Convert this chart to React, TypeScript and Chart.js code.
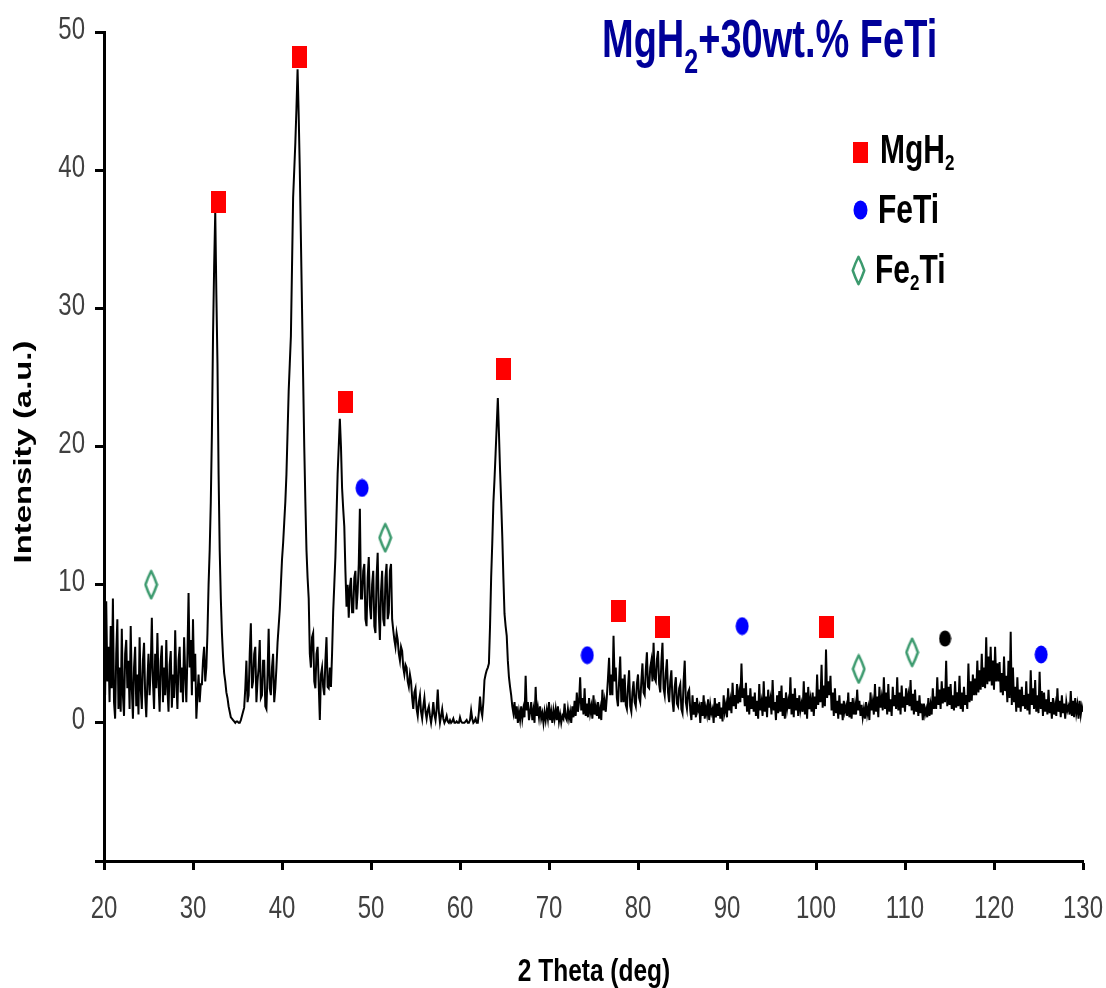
import React, { useEffect, useRef } from "react";
import { Chart, registerables } from "chart.js";

Chart.register(...registerables);

// ---------- DATA ----------
const THETA_START = 20;
const THETA_STEP = 0.125;

const intensity: number[] = [
  6.5, 2.0, 8.8, 3.0, 5.5, 1.5, 7.0, 2.5, // 20
  9.0, 1.5, 0.3, 5.0, 7.5, 1.0, 4.0, 0.8, // 21
  6.8, 2.0, 0.5, 5.0, 6.0, 2.5, 4.5, 1.0, // 22
  7.0, 2.5, 0.3, 4.0, 5.5, 1.2, 3.5, 0.6, // 23
  6.2, 2.5, 1.0, 4.5, 5.8, 2.0, 0.4, 3.0, // 24
  5.0, 2.0, 4.0, 7.6, 3.0, 1.0, 5.0, 2.5, // 25
  6.5, 3.0, 0.8, 4.5, 5.6, 1.5, 4.0, 2.0, // 26
  6.0, 2.5, 0.8, 4.2, 5.2, 1.1, 3.5, 1.8, // 27
  6.7, 3.0, 1.0, 4.5, 5.5, 2.2, 4.0, 1.5, // 28
  6.2, 3.5, 1.5, 5.0, 9.4, 4.0, 6.0, 2.0, // 29
  7.5, 3.0, 5.0, 0.3, 2.0, 3.5, 1.5, 2.8, // 30
  2.8, 4.5, 5.5, 3.0, 4.0, 6.5, 10.0, 12.5, // 31
  16.0, 21.0, 28.0, 33.0, 37.0, 31.0, 26.0, 18.0, // 32
  12.5, 9.0, 6.5, 4.8, 3.6, 3.0, 2.2, 1.8, // 33
  1.2, 0.8, 0.4, 0.3, 0.2, 0.1, 0.0, 0.1, // 34
  0.1, 0.0, 0.0, 0.2, 0.5, 0.8, 1.1, 2.5, // 35
  4.5, 1.5, 2.0, 5.0, 7.2, 2.5, 3.0, 5.0, // 36
  5.5, 1.5, 3.0, 4.0, 6.0, 1.8, 2.0, 4.5, // 37
  4.5, 1.2, 1.0, 3.5, 6.8, 2.5, 2.0, 4.0, // 38
  5.0, 1.5, 2.5, 4.0, 5.8, 7.0, 8.2, 10.0, // 39
  11.8, 13.0, 14.5, 16.0, 18.0, 21.0, 24.0, 26.0, // 40
  28.0, 33.0, 38.0, 40.0, 42.0, 44.5, 47.3, 44.0, // 41
  40.0, 35.0, 30.0, 25.0, 20.0, 16.0, 12.5, 10.5, // 42
  9.0, 5.0, 4.0, 6.2, 6.5, 3.0, 2.5, 5.0, // 43
  5.5, 2.8, 0.2, 3.5, 4.0, 2.6, 2.0, 4.5, // 44
  6.2, 2.6, 2.5, 4.0, 2.6, 5.0, 8.0, 10.0, // 45
  12.0, 15.0, 18.0, 20.0, 22.0, 20.0, 17.0, 15.5, // 46
  14.2, 11.0, 8.4, 10.0, 7.6, 9.8, 10.5, 8.0, // 47
  8.0, 10.5, 11.0, 8.2, 9.5, 11.5, 15.5, 9.0, // 48
  9.0, 11.0, 11.5, 7.5, 7.0, 10.5, 12.0, 8.5, // 49
  7.5, 10.0, 11.0, 7.0, 6.5, 10.5, 12.3, 8.0, // 50
  6.0, 9.5, 11.0, 7.5, 7.0, 10.5, 11.5, 7.5, // 51
  8.0, 11.0, 11.5, 7.5, 6.7, 6.0, 5.5, 6.5, // 52
  6.0, 5.0, 4.5, 5.5, 5.2, 4.0, 3.5, 4.2, // 53
  4.0, 3.0, 2.6, 3.5, 3.0, 1.8, 1.0, 2.2, // 54
  2.5, 1.0, 0.5, 1.5, 2.0, 0.8, 0.3, 1.2, // 55
  1.8, 0.8, 0.3, 0.9, 1.2, 0.5, 0.0, 0.6, // 56
  1.5, 0.6, 0.2, 1.0, 2.4, 0.8, 0.0, 0.5, // 57
  1.0, 0.3, 0.0, 0.2, 0.5, 0.1, 0.0, 0.2, // 58
  0.0, 0.1, 0.3, 0.0, 0.0, 0.1, 0.0, 0.0, // 59
  0.4, 0.1, 0.0, 0.0, 0.0, 0.1, 0.2, 0.0, // 60
  0.0, 0.2, 0.9, 0.3, 0.0, 0.1, 0.3, 0.0, // 61
  0.0, 0.8, 1.9, 0.9, 0.5, 1.5, 3.1, 3.5, // 62
  3.8, 4.0, 4.3, 7.0, 10.5, 13.0, 15.9, 17.6, // 63
  19.5, 21.5, 23.5, 21.0, 18.3, 16.0, 13.5, 10.5, // 64
  7.9, 7.0, 6.3, 4.5, 3.3, 2.6, 2.0, 1.2, // 65
  0.7, 1.5, 0.3, 1.2, 0.0, 0.8, 0.2, 1.2, // 66
  0.3, 1.0, 0.4, 3.4, 0.9, 1.5, 0.2, 0.8, // 67
  1.5, 0.2, 0.9, 0.0, 2.6, 0.5, 1.1, 0.4, // 68
  1.2, 0.3, 0.7, 0.0, 0.8, 0.2, 0.9, 0.3, // 69
  1.5, 0.2, 0.8, 0.0, 0.9, 0.3, 1.0, 0.2, // 70
  1.2, 0.1, 0.6, 0.0, 0.5, 0.3, 1.4, 0.4, // 71
  0.2, 1.0, 0.3, 0.8, 0.0, 1.2, 0.4, 1.6, // 72
  0.5, 2.2, 0.8, 1.5, 3.3, 0.9, 1.8, 0.6, // 73
  2.5, 0.5, 1.4, 0.4, 1.8, 0.7, 1.2, 0.3, // 74
  2.0, 0.6, 1.2, 0.5, 1.5, 0.3, 1.0, 0.2, // 75
  2.4, 0.9, 1.6, 0.8, 1.9, 3.2, 4.7, 2.0, // 76
  3.5, 2.0, 6.3, 3.0, 4.0, 1.8, 1.2, 3.0, // 77
  4.8, 1.5, 3.2, 1.5, 3.5, 1.3, 1.0, 2.6, // 78
  3.8, 1.2, 0.8, 2.2, 3.0, 1.5, 1.2, 2.8, // 79
  3.5, 1.8, 1.5, 3.0, 4.3, 2.2, 2.0, 3.8, // 80
  5.1, 2.6, 2.5, 4.0, 4.5, 3.0, 5.8, 3.2, // 81
  3.0, 4.6, 5.2, 2.8, 2.2, 4.4, 5.8, 2.5, // 82
  2.0, 3.6, 4.6, 2.2, 1.5, 3.0, 3.8, 1.6, // 83
  0.8, 2.6, 3.3, 1.4, 1.2, 2.5, 2.8, 1.0, // 84
  0.7, 3.0, 4.5, 1.5, 1.0, 2.2, 2.4, 0.9, // 85
  0.2, 2.0, 0.6, 1.5, 0.4, 1.8, 0.9, 1.2, // 86
  0.0, 1.5, 0.5, 2.0, 0.3, 1.1, 0.6, 1.7, // 87
  0.2, 1.3, 0.7, 1.0, 0.0, 1.8, 0.4, 1.4, // 88
  0.5, 1.5, 0.3, 1.1, 0.1, 2.0, 0.8, 1.3, // 89
  0.4, 2.5, 0.9, 1.6, 0.7, 2.9, 1.2, 2.0, // 90
  1.0, 2.8, 1.4, 2.2, 1.5, 4.3, 1.8, 2.5, // 91
  1.2, 2.9, 0.8, 2.0, 0.6, 2.5, 1.0, 1.9, // 92
  0.8, 2.2, 0.5, 1.6, 0.3, 2.8, 0.9, 1.5, // 93
  0.5, 3.0, 0.8, 1.9, 0.4, 2.4, 1.1, 1.7, // 94
  0.6, 3.1, 0.9, 1.5, 0.2, 2.0, 0.7, 2.3, // 95
  0.8, 2.7, 0.5, 1.8, 0.3, 2.2, 1.0, 1.6, // 96
  1.0, 3.3, 0.6, 2.1, 0.4, 2.5, 0.9, 1.8, // 97
  0.5, 2.0, 0.9, 1.4, 0.8, 3.0, 0.6, 2.2, // 98
  0.3, 2.6, 1.0, 1.7, 0.8, 2.2, 0.5, 1.9, // 99
  1.0, 3.5, 1.3, 2.4, 1.5, 4.2, 1.1, 2.7, // 100
  1.2, 5.3, 1.8, 3.0, 2.0, 3.4, 0.9, 2.2, // 101
  0.5, 2.5, 0.7, 1.6, 0.3, 2.0, 0.6, 1.4, // 102
  0.2, 1.6, 0.8, 1.2, 0.5, 2.2, 0.4, 1.5, // 103
  0.3, 1.8, 0.6, 1.3, 0.6, 2.4, 0.9, 1.6, // 104
  0.5, 1.3, 0.4, 1.0, 0.3, 1.5, 0.6, 1.1, // 105
  0.2, 2.2, 0.9, 1.5, 0.6, 2.8, 0.8, 1.9, // 106
  0.4, 2.6, 1.1, 1.8, 0.9, 3.3, 1.0, 2.2, // 107
  0.6, 2.8, 0.8, 1.7, 0.5, 2.6, 1.2, 2.0, // 108
  1.0, 3.3, 0.9, 2.2, 0.6, 2.7, 1.1, 1.9, // 109
  0.8, 2.5, 1.3, 2.0, 1.2, 3.1, 0.9, 2.1, // 110
  0.6, 2.4, 0.8, 1.6, 0.5, 2.0, 0.7, 1.4, // 111
  0.2, 1.4, 0.6, 1.0, 0.4, 1.8, 0.5, 1.3, // 112
  0.6, 2.5, 1.0, 1.9, 1.0, 3.3, 1.3, 2.4, // 113
  1.0, 3.0, 1.4, 2.5, 1.5, 4.5, 1.2, 2.6, // 114
  1.3, 2.8, 1.0, 2.0, 0.9, 3.0, 1.1, 2.2, // 115
  1.2, 3.4, 1.0, 2.2, 0.8, 2.6, 1.3, 2.0, // 116
  1.0, 4.3, 1.5, 3.0, 1.6, 3.5, 2.0, 3.2, // 117
  2.0, 4.5, 2.2, 3.8, 2.4, 5.0, 2.6, 4.0, // 118
  2.5, 6.2, 2.8, 4.8, 3.0, 5.5, 2.7, 4.5, // 119
  2.4, 5.5, 3.0, 4.3, 3.0, 4.4, 2.2, 3.6, // 120
  2.0, 4.8, 2.3, 3.4, 1.5, 4.5, 1.8, 6.6, // 121
  1.3, 4.0, 1.5, 2.6, 0.8, 3.3, 1.1, 2.4, // 122
  0.8, 2.6, 1.2, 2.0, 1.0, 3.0, 0.9, 2.1, // 123
  0.6, 3.8, 1.3, 2.5, 1.0, 3.1, 0.8, 2.0, // 124
  0.7, 3.7, 1.0, 2.3, 0.5, 2.2, 0.8, 1.7, // 125
  0.6, 2.4, 0.7, 1.5, 0.3, 1.8, 0.6, 1.3, // 126
  0.5, 2.5, 0.8, 1.6, 0.4, 2.0, 0.7, 1.4, // 127
  0.3, 1.5, 0.9, 1.2, 0.6, 2.3, 0.5, 1.6, // 128
  0.4, 1.8, 0.7, 1.3, 0.3, 1.6, 0.6, 1.2, // 129
  0.8, // 130
];

// Phase markers (2theta, intensity)
const mgh2Theta = [32.9, 41.95, 47.1, 64.9, 77.8, 82.8, 101.2];
const mgh2Int = [37.7, 48.2, 23.2, 25.6, 8.1, 6.9, 6.9];
const fetiTheta = [49.0, 74.3, 91.7, 125.3];
const fetiInt = [17.0, 4.9, 7.0, 4.95];
const fe2tiTheta = [25.3, 51.6, 104.8, 110.8];
const fe2tiInt = [10.0, 13.4, 3.9, 5.1];
const otherTheta = [114.5];
const otherInt = [6.1];

const xTickValues = [20, 30, 40, 50, 60, 70, 80, 90, 100, 110, 120, 130];
const yTickValues = [-10, 0, 10, 20, 30, 40, 50];

const chartTitle = ["MgH", "2", "+30wt.% FeTi"];
const legendLabels = [["MgH", "2", ""], ["FeTi", "", ""], ["Fe", "2", "Ti"]];
const xAxisTitle = "2 Theta (deg)";
const yAxisTitle = "Intensity (a.u.)";

// ---------- STYLE ----------
const W = 1106;
const H = 988;
const SANS = '"Liberation Sans", Arial, sans-serif';
const RED = "#ff0000";
const BLUE = "#0000ff";
const GREEN = "#3c9a6e";
const NAVY = "#000099";
const TICK_COLOR = "#404040";

function makeRect(w: number, h: number, color: string) {
  const c = document.createElement("canvas");
  c.width = w;
  c.height = h;
  const g = c.getContext("2d")!;
  g.fillStyle = color;
  g.fillRect(0, 0, w, h);
  return c;
}
function makeEllipse(w: number, h: number, color: string) {
  const c = document.createElement("canvas");
  c.width = w;
  c.height = h;
  const g = c.getContext("2d")!;
  g.fillStyle = color;
  g.beginPath();
  g.ellipse(w / 2, h / 2, w / 2 - 0.5, h / 2 - 0.5, 0, 0, Math.PI * 2);
  g.fill();
  return c;
}
function makeDiamond(w: number, h: number, color: string, lw: number) {
  const c = document.createElement("canvas");
  c.width = w;
  c.height = h;
  const g = c.getContext("2d")!;
  g.strokeStyle = color;
  g.lineWidth = lw;
  g.lineJoin = "round";
  const cx = w / 2;
  const cy = h / 2;
  const rx = w / 2 - lw / 2 - 0.5;
  const ry = h / 2 - lw / 2 - 0.5;
  g.beginPath();
  g.moveTo(cx, cy - ry);
  g.quadraticCurveTo(cx + rx * 0.55, cy - ry * 0.55, cx + rx, cy);
  g.quadraticCurveTo(cx + rx * 0.55, cy + ry * 0.55, cx, cy + ry);
  g.quadraticCurveTo(cx - rx * 0.55, cy + ry * 0.55, cx - rx, cy);
  g.quadraticCurveTo(cx - rx * 0.55, cy - ry * 0.55, cx, cy - ry);
  g.closePath();
  g.stroke();
  return c;
}

type Run = { t: string; size: number; dy: number };
function drawRuns(ctx: CanvasRenderingContext2D, x: number, y: number, sy: number, color: string, runs: Run[]) {
  let cx = x;
  ctx.fillStyle = color;
  ctx.textAlign = "left";
  ctx.textBaseline = "alphabetic";
  for (const r of runs) {
    if (!r.t) continue;
    ctx.font = `bold ${r.size}px ${SANS}`;
    ctx.save();
    ctx.translate(cx, y + r.dy);
    ctx.scale(1, sy);
    ctx.fillText(r.t, 0, 0);
    ctx.restore();
    cx += ctx.measureText(r.t).width;
  }
}

function stretched(ctx: CanvasRenderingContext2D, text: string, x: number, y: number, sy: number) {
  ctx.save();
  ctx.translate(x, y);
  ctx.scale(1, sy);
  ctx.fillText(text, 0, 0);
  ctx.restore();
}

const textPlugin = {
  id: "xrdTexts",
  afterDraw(chart: any) {
    const ctx: CanvasRenderingContext2D = chart.ctx;
    ctx.save();
    // Tick labels (drawn at the library's tick positions)
    const xs = chart.scales.x;
    const ys = chart.scales.y;
    ctx.fillStyle = TICK_COLOR;
    ctx.font = `24px ${SANS}`;
    ctx.textBaseline = "middle";
    ctx.textAlign = "center";
    xs.ticks.forEach((t: any) => {
      stretched(ctx, String(t.value), xs.getPixelForValue(t.value), 909, 1.3);
    });
    ctx.textAlign = "right";
    ys.ticks.forEach((t: any) => {
      if (t.value < 0) return;
      stretched(ctx, String(t.value), ys.left + ys.width - 19, ys.getPixelForValue(t.value) - 2, 1.3);
    });
    // Title
    drawRuns(ctx, 602, 57, 1.4, NAVY, [
      { t: chartTitle[0], size: 38, dy: 0 },
      { t: chartTitle[1], size: 25, dy: 16 },
      { t: chartTitle[2], size: 38, dy: 0 },
    ]);
    // Legend
    const legY = [163, 223, 283];
    const legX = [880, 878, 875];
    legendLabels.forEach((lab, i) => {
      drawRuns(ctx, legX[i], legY[i], 1.35, "#000", [
        { t: lab[0], size: 30, dy: 0 },
        { t: lab[1], size: 17, dy: 7 },
        { t: lab[2], size: 30, dy: 0 },
      ]);
    });
    ctx.drawImage(makeRect(15, 21, RED), 853, 142);
    ctx.drawImage(makeEllipse(15, 20, BLUE), 853, 200);
    ctx.drawImage(makeDiamond(15, 31, GREEN, 2.5), 851, 255);
    // X axis title
    ctx.fillStyle = "#000";
    ctx.font = `bold 24.5px ${SANS}`;
    ctx.textAlign = "center";
    ctx.textBaseline = "middle";
    stretched(ctx, xAxisTitle, 594, 972, 1.3);
    // Y axis title
    ctx.font = `bold 24px ${SANS}`;
    ctx.save();
    ctx.translate(24, 452);
    ctx.rotate(-Math.PI / 2);
    ctx.scale(1.37, 1);
    ctx.fillText(yAxisTitle, 0, 0);
    ctx.restore();
    ctx.restore();
  },
};

export default function App() {
  const ref = useRef<HTMLCanvasElement | null>(null);

  useEffect(() => {
    if (!ref.current) return;
    const lineData = intensity.map((v, i) => ({ x: THETA_START + i * THETA_STEP, y: v }));
    const pts = (xs: number[], ys: number[]) => xs.map((x, i) => ({ x, y: ys[i] }));

    const chart = new Chart(ref.current, {
      type: "scatter",
      data: {
        datasets: [
          {
            label: "MgH2",
            data: pts(mgh2Theta, mgh2Int),
            pointStyle: makeRect(15, 22, RED) as any,
            showLine: false,
          },
          {
            label: "FeTi",
            data: pts(fetiTheta, fetiInt),
            pointStyle: makeEllipse(14, 19, BLUE) as any,
            showLine: false,
          },
          {
            label: "Fe2Ti",
            data: pts(fe2tiTheta, fe2tiInt),
            pointStyle: makeDiamond(15, 31, GREEN, 2.5) as any,
            showLine: false,
          },
          {
            label: "other",
            data: pts(otherTheta, otherInt),
            pointStyle: makeEllipse(13, 17, "#000") as any,
            showLine: false,
          },
          {
            type: "line",
            label: "XRD",
            data: lineData,
            borderColor: "#000",
            borderWidth: 2,
            borderJoinStyle: "miter",
            pointRadius: 0,
            tension: 0,
            fill: false,
          } as any,
        ],
      },
      options: {
        animation: false,
        responsive: false,
        devicePixelRatio: 1,
        events: [],
        layout: { padding: { left: 0, top: 32, right: 23, bottom: 0 } },
        plugins: { legend: { display: false }, tooltip: { enabled: false }, title: { display: false } },
        scales: {
          x: {
            type: "linear",
            min: 20,
            max: 130,
            afterBuildTicks: (s: any) => {
              s.ticks = xTickValues.map((v) => ({ value: v }));
            },
            afterFit: (s: any) => {
              s.height = H - 861;
            },
            grid: { drawOnChartArea: false, drawTicks: true, tickLength: 9, tickWidth: 3, tickColor: "#000" },
            border: { display: true, color: "#000", width: 3 },
            ticks: { display: false, autoSkip: false, maxRotation: 0 },
          },
          y: {
            type: "linear",
            min: -10,
            max: 50,
            afterBuildTicks: (s: any) => {
              s.ticks = yTickValues.map((v) => ({ value: v }));
            },
            afterFit: (s: any) => {
              s.width = 104;
            },
            grid: { drawOnChartArea: false, drawTicks: true, tickLength: 9, tickWidth: 3, tickColor: "#000" },
            border: { display: true, color: "#000", width: 3 },
            ticks: { display: false },
          },
        },
      },
      plugins: [textPlugin],
    });
    return () => chart.destroy();
  }, []);

  return (
    <div style={{ position: "fixed", left: 0, top: 0, width: W, height: H, background: "#fff" }}>
      <canvas ref={ref} width={W} height={H} style={{ display: "block", width: W, height: H }} />
    </div>
  );
}
